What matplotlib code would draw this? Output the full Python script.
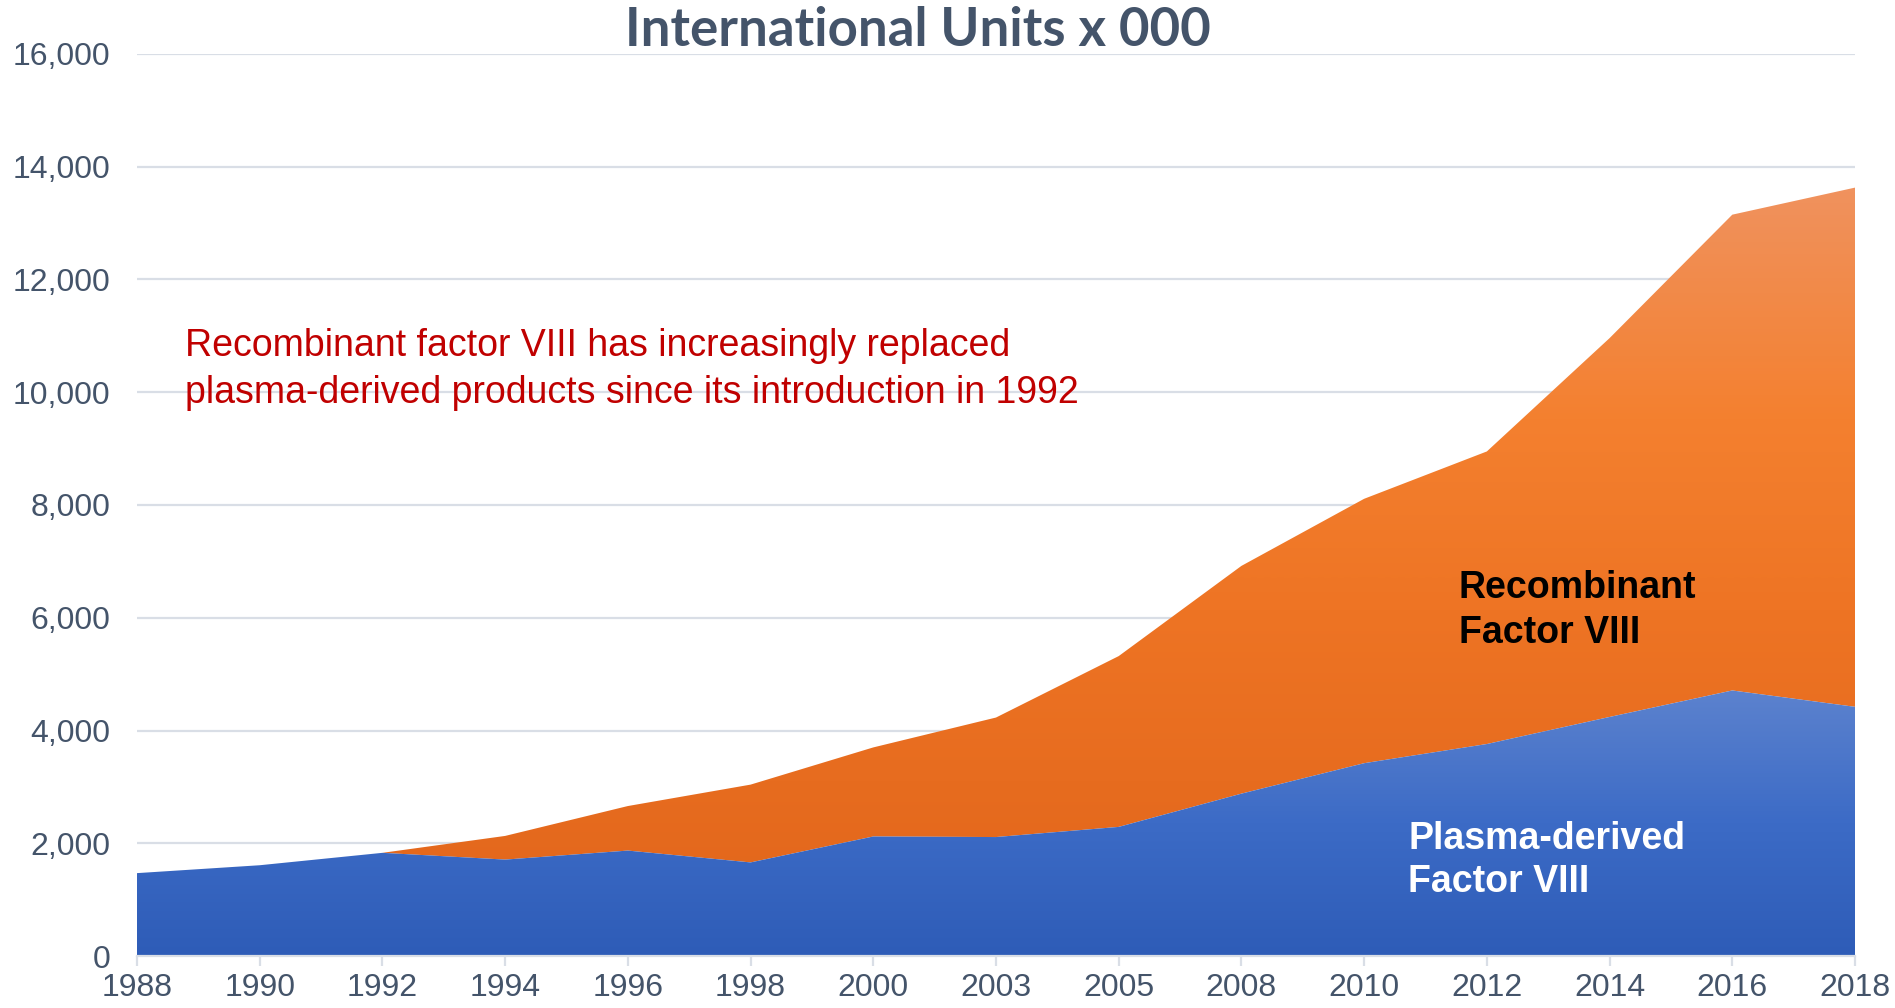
import numpy as np
import matplotlib
matplotlib.use("Agg")
import matplotlib.pyplot as plt
from matplotlib.colors import LinearSegmentedColormap
from matplotlib.ticker import FuncFormatter

# values (IU x 000)
years = ["1988", "1990", "1992", "1994", "1996", "1998", "2000", "2003",
         "2005", "2008", "2010", "2012", "2014", "2016", "2018"]
plasma = [1470, 1610, 1830, 1710, 1870, 1660, 2120, 2110,
          2290, 2880, 3420, 3760, 4240, 4710, 4420]
recombinant = [0, 0, 0, 420, 790, 1380, 1580, 2120,
               3030, 4040, 4690, 5190, 6720, 8440, 9210]

title = "International Units x 000"
note = ("Recombinant factor VIII has increasingly replaced\n"
        "plasma-derived products since its introduction in 1992")
label_rec = "Recombinant\nFactor VIII"
label_pla = "Plasma-derived\nFactor VIII"

TXT = "#44546A"
GRID = "#D9DEE6"

plt.rcParams["font.family"] = ["Liberation Sans", "DejaVu Sans"]

fig = plt.figure(figsize=(18.95, 10.08), dpi=100)
ax = fig.add_axes([137 / 1895, 1 - 956 / 1008, (1855 - 137) / 1895, (956 - 54) / 1008])

x = np.arange(len(years))
p = np.array(plasma)
top = p + np.array(recombinant)


def gradient_fill(ax, x, y1, y2, stops, ymax):
    poly = ax.fill_between(x, y1, y2, color="none", lw=0, zorder=2)
    cmap = LinearSegmentedColormap.from_list("g", stops)
    grad = np.linspace(0, 1, 256).reshape(-1, 1)
    im = ax.imshow(grad, cmap=cmap, origin="lower", aspect="auto",
                   extent=[x[0], x[-1], 0, ymax], zorder=2, interpolation="bilinear")
    im.set_clip_path(poly.get_paths()[0], transform=ax.transData)
    return im


gradient_fill(ax, x, p, top,
              [(0.0, "#E0641A"), (0.45, "#EE7424"), (0.7, "#F4802F"), (1.0, "#F0925E")],
              top.max())
gradient_fill(ax, x, 0, p,
              [(0.0, "#2E5CB7"), (0.5, "#3C6BC6"), (1.0, "#5C82CE")],
              p.max())

ax.set_xlim(0, len(years) - 1)
ax.set_ylim(0, 16000)
ax.set_yticks(np.arange(0, 16001, 2000))
ax.yaxis.set_major_formatter(FuncFormatter(lambda v, pos: f"{int(v):,}"))
ax.set_xticks(x)
ax.set_xticklabels(years)
ax.grid(axis="y", color=GRID, lw=1.6, zorder=0)
ax.set_axisbelow(True)

for s in ["top", "right", "left"]:
    ax.spines[s].set_visible(False)
ax.spines["bottom"].set_color(GRID)
ax.spines["bottom"].set_linewidth(1.6)
ax.spines["bottom"].set_zorder(3)

ax.tick_params(axis="y", length=0, pad=19, labelsize=23, labelcolor=TXT)
ax.tick_params(axis="x", length=7, width=1.6, color=GRID, pad=5,
               labelsize=23, labelcolor=TXT)

fig.text(918 / 1895, 1 - 46 / 1008, title, family=["Lato", "DejaVu Sans"],
         fontweight="bold", fontsize=38, color=TXT, ha="center", va="baseline")

ax.text(0.39, 10400, note, color="#C00000", fontsize=27, ha="left", va="center",
        linespacing=1.4, zorder=4)
ax.text(10.77, 6130, label_rec, color="black", fontsize=27, fontweight="bold",
        ha="left", va="center", linespacing=1.3, zorder=4)
ax.text(10.36, 1700, label_pla, color="white", fontsize=27, fontweight="bold",
        ha="left", va="center", linespacing=1.25, zorder=4)

fig.savefig("out.png", dpi=100, facecolor="white")
